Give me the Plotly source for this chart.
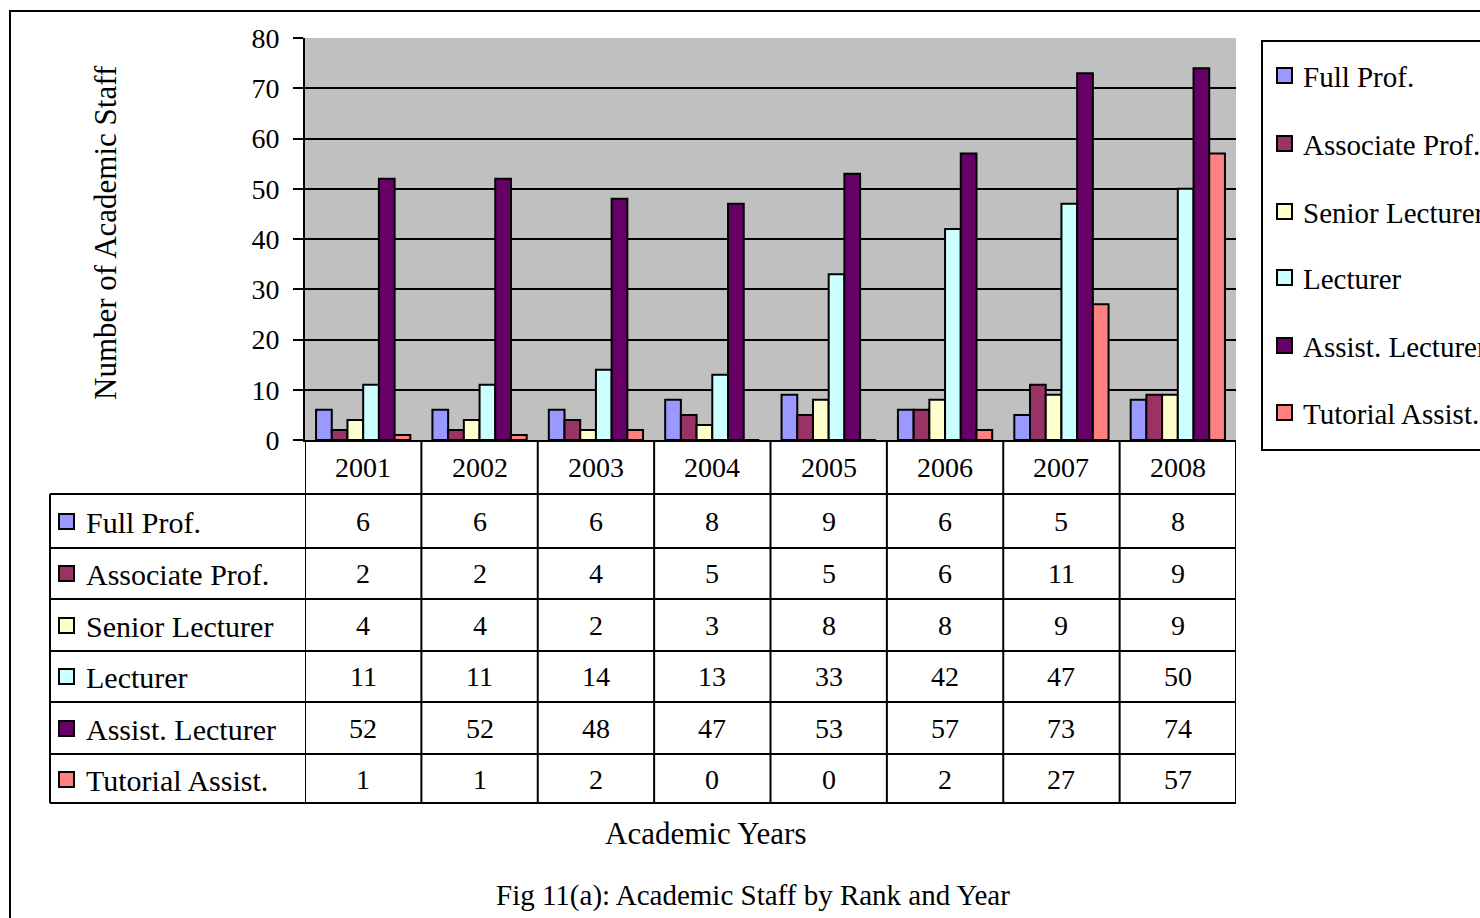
import plotly.graph_objects as go

years = ["2001", "2002", "2003", "2004", "2005", "2006", "2007", "2008"]
series_names = ["Full Prof.", "Associate Prof.", "Senior Lecturer", "Lecturer",
                "Assist. Lecturer", "Tutorial Assist."]
full_prof = [6, 6, 6, 8, 9, 6, 5, 8]
associate_prof = [2, 2, 4, 5, 5, 6, 11, 9]
senior_lecturer = [4, 4, 2, 3, 8, 8, 9, 9]
lecturer = [11, 11, 14, 13, 33, 42, 47, 50]
assist_lecturer = [52, 52, 48, 47, 53, 57, 73, 74]
tutorial_assist = [1, 1, 2, 0, 0, 2, 27, 57]
series_values = [full_prof, associate_prof, senior_lecturer, lecturer,
                 assist_lecturer, tutorial_assist]
colors = ["#9999FF", "#993366", "#FFFFCC", "#CCFFFF", "#660066", "#FF8080"]
y_ticks = [0, 10, 20, 30, 40, 50, 60, 70, 80]

W, H = 1480, 918
FONT = "Liberation Serif, Times New Roman, serif"
FS_NUM = 28
FS_ROW = 30
FS_LEG = 29
FS_TITLE = 31
FS_CAP = 29


def px(x):
    return x / W


def py(y):
    return 1 - y / H


def tfont(size):
    return dict(family=FONT, size=size, color="black")


fig = go.Figure()
xi = list(range(len(years)))
for name, vals, col in zip(series_names, series_values, colors):
    fig.add_trace(go.Bar(x=xi, y=vals, name=name, marker=dict(color=col, line=dict(color="black", width=2)),
                         showlegend=False))

shapes = []
annotations = []

# outer frame
shapes.append(dict(type="rect", xref="paper", yref="paper", x0=px(10), x1=px(1500), y0=py(940), y1=py(11),
                   line=dict(color="black", width=2), layer="below"))

# data table grid
row_lines = [494, 548, 599, 651, 702, 754, 803]
for ry in row_lines:
    shapes.append(dict(type="line", xref="paper", yref="paper", x0=px(50), x1=px(1236), y0=py(ry), y1=py(ry),
                       line=dict(color="black", width=2)))
shapes.append(dict(type="line", xref="paper", yref="paper", x0=px(50), x1=px(50), y0=py(494), y1=py(803),
                   line=dict(color="black", width=2)))
for i in range(len(years) + 1):
    shapes.append(dict(type="line", xref="x", yref="paper", x0=i - 0.5, x1=i - 0.5, y0=py(440), y1=py(803),
                       line=dict(color="black", width=2)))

for i, yr in enumerate(years):
    annotations.append(dict(x=i, y=py(467), xref="x", yref="paper", text=yr, showarrow=False,
                            font=tfont(FS_NUM), xanchor="center", yanchor="middle"))

row_centers = [521, 573, 625, 676, 728, 779]
for r, (name, vals, col) in enumerate(zip(series_names, series_values, colors)):
    cy = row_centers[r]
    shapes.append(dict(type="rect", xref="paper", yref="paper", x0=px(59), x1=px(74), y0=py(cy + 8), y1=py(cy - 7),
                       fillcolor=col, line=dict(color="black", width=2)))
    annotations.append(dict(x=px(84), y=py(cy + 1), xref="paper", yref="paper", text=name, showarrow=False,
                            font=tfont(FS_ROW), xanchor="left", yanchor="middle"))
    for i, v in enumerate(vals):
        annotations.append(dict(x=i, y=py(cy), xref="x", yref="paper", text=str(v), showarrow=False,
                                font=tfont(FS_NUM), xanchor="center", yanchor="middle"))

# legend
shapes.append(dict(type="rect", xref="paper", yref="paper", x0=px(1262), x1=px(1500), y0=py(450), y1=py(41),
                   line=dict(color="black", width=2)))
legend_centers = [76, 144, 212, 278, 346, 413]
for name, col, cy in zip(series_names, colors, legend_centers):
    shapes.append(dict(type="rect", xref="paper", yref="paper", x0=px(1277), x1=px(1292), y0=py(cy + 7), y1=py(cy - 8),
                       fillcolor=col, line=dict(color="black", width=2)))
    annotations.append(dict(x=px(1301), y=py(cy + 1), xref="paper", yref="paper", text=name, showarrow=False,
                            font=tfont(FS_LEG), xanchor="left", yanchor="middle"))

annotations.append(dict(x=px(105), y=py(233), xref="paper", yref="paper", text="Number of Academic Staff",
                        showarrow=False, textangle=-90, font=tfont(FS_TITLE),
                        xanchor="center", yanchor="middle"))
annotations.append(dict(x=px(705), y=py(833), xref="paper", yref="paper", text="Academic Years",
                        showarrow=False, font=tfont(FS_TITLE), xanchor="center", yanchor="middle"))
annotations.append(dict(x=px(753), y=py(895), xref="paper", yref="paper",
                        text="Fig 11(a): Academic Staff by Rank and Year",
                        showarrow=False, font=tfont(FS_CAP), xanchor="center", yanchor="middle"))

fig.update_layout(
    width=W, height=H,
    margin=dict(l=0, r=0, t=0, b=0, pad=0, autoexpand=False),
    paper_bgcolor="white",
    plot_bgcolor="#C0C0C0",
    barmode="group",
    bargap=0.19,
    bargroupgap=0,
    showlegend=False,
    font=tfont(FS_NUM),
    xaxis=dict(domain=[px(305), px(1236)], range=[-0.5, len(years) - 0.5], showticklabels=False,
               showgrid=False, zeroline=False, showline=True, linecolor="black", linewidth=2, ticks="",
               fixedrange=True, automargin=False),
    yaxis=dict(domain=[py(440), py(38)], range=[0, 80], tickvals=y_ticks, ticktext=[str(t) for t in y_ticks],
               showgrid=True, gridcolor="black", gridwidth=2, zeroline=False, showline=True,
               linecolor="black", linewidth=2, ticks="outside", ticklen=10, tickwidth=2, tickcolor="black",
               ticklabelstandoff=8, automargin=False,
               tickfont=tfont(FS_NUM), fixedrange=True),
    shapes=shapes,
    annotations=annotations,
)

fig.write_html("out.html", config={"displayModeBar": False},
               post_script="document.body.style.margin='0';document.body.style.padding='0';")
